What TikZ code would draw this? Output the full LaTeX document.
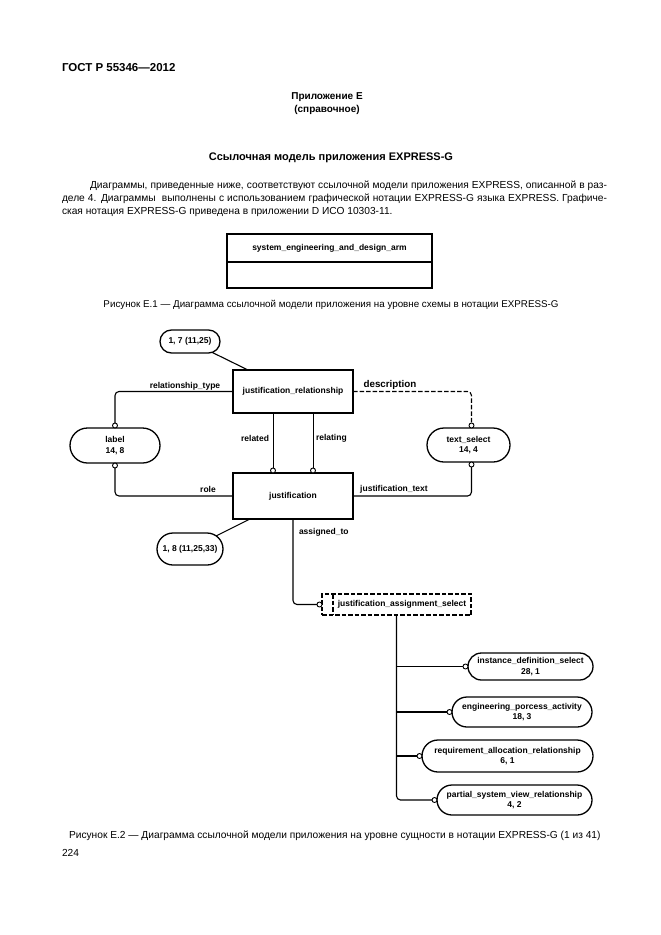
\documentclass[tikz,border=0pt]{standalone}
\usepackage{fontspec}
\setmainfont{Liberation Sans}
\usetikzlibrary{shapes.misc,calc}
\newcommand\dgfont{\bfseries\fontsize{8.5}{10.5}\selectfont}
\newcommand\bodyfont{\fontsize{10.2}{12}\selectfont}
\begin{document}
\begin{tikzpicture}[x=1pt,y=-1pt,
  every node/.style={inner sep=0pt, outer sep=0pt},
  ent/.style={draw, line width=1.4pt, minimum width=120pt, align=center, font=\dgfont},
  refb/.style={draw, rounded rectangle, line width=1.3pt, align=center, font=\dgfont},
  oc/.style={circle, draw, fill=white, line width=0.9pt, minimum size=5pt},
  conn/.style={line width=1.1pt, rounded corners=4pt},
  dsh/.style={dash pattern=on 4.5pt off 2pt},
  lbl/.style={font=\dgfont},
  body/.style={font=\bodyfont}]
\fill[white] (0,0) rectangle (661,935);
\useasboundingbox (0,0) rectangle (661,935);

% header
\node[anchor=west, font=\bfseries\fontsize{11.5}{13}\selectfont] (gost) at (62,68) {ГОСТ Р 55346—2012};
\node[font=\bfseries\fontsize{10}{12}\selectfont] (app) at (327,97) {Приложение Е};
\node[font=\bfseries\fontsize{10}{12}\selectfont] (inf) at (327,110) {(справочное)};
\node[font=\bfseries\fontsize{11}{13}\selectfont] (title) at (331,158) {Ссылочная модель приложения EXPRESS-G};
\node[anchor=west, body] (p1) at (90,186) {\makebox[517pt][s]{Диаграммы, приведенные ниже, соответствуют ссылочной модели приложения EXPRESS, описанной в раз-}};
\node[anchor=west, body] (p2) at (62,199) {\makebox[545pt][s]{деле 4. Диаграммы\ \ выполнены с использованием графической нотации EXPRESS-G языка EXPRESS. Графиче-}};
\node[anchor=west, body] (p3) at (62,212) {ская нотация EXPRESS-G приведена в приложении D ИСО 10303-11.};

% figure E.1
\node[draw, line width=1.4pt, minimum width=205pt, minimum height=28pt, font=\dgfont] (seb) at (329.5,248) {system\_engineering\_and\_design\_arm};
\node[draw, line width=1.4pt, minimum width=205pt, minimum height=26pt, anchor=north] (sebb) at (seb.south) {};
\node[font=\fontsize{9.8}{12}\selectfont] (cap1) at (331,305) {Рисунок Е.1 — Диаграмма ссылочной модели приложения на уровне схемы в нотации EXPRESS-G};

% figure E.2 entities
\node[ent, minimum height=43pt] (jr) at (293,391.5) {justification\_relationship};
\node[ent, minimum height=46pt] (just) at (293,496) {justification};
\node[refb, minimum width=60pt, minimum height=23pt] (b17) at (190,341.5) {1, 7 (11,25)};
\node[refb, minimum width=66pt, minimum height=32pt] (b18) at (190,549) {1, 8 (11,25,33)};
\node[refb, minimum width=90pt, minimum height=35pt] (label) at (115,445.5) {label\\14, 8};
\node[refb, minimum width=83pt, minimum height=34pt] (tsel) at (468.5,445) {text\_select\\14, 4};

% select type
\node[draw, dsh, line width=1.1pt, minimum width=149pt, minimum height=21pt] (jas) at (396.5,604.5) {};
\coordinate (jasit) at ($(jas.north west)+(11,0)$);
\coordinate (jasib) at ($(jas.south west)+(11,0)$);
\draw[dsh, line width=1.1pt] (jasit) -- (jasib);
\node[font=\dgfont] (jast) at ($(jasit)!0.5!(jas.south east)$) {justification\_assignment\_select};

\node[refb, minimum width=125pt, minimum height=27pt] (ids) at (530.5,666.5) {instance\_definition\_select\\28, 1};
\node[refb, minimum width=140pt, minimum height=30pt] (epa) at (522,712) {engineering\_porcess\_activity\\18, 3};
\node[refb, minimum width=171pt, minimum height=32pt] (rar) at (507.5,756) {requirement\_allocation\_relationship\\6, 1};
\node[refb, minimum width=155pt, minimum height=30pt] (psvr) at (514.5,800) {partial\_system\_view\_relationship\\4, 2};

% reference lines
\draw[line width=1.1pt] (b17) -- ($(jr.north west)+(15,0)$);
\draw[line width=1.1pt] (b18) -- ($(just.south west)+(17,0)$);

% relationship_type
\node[oc, anchor=south] (clt) at (label.north) {};
\draw[conn] (jr.west) -| (clt.north);
\node[lbl] (lrt) at (185,386) {relationship\_type};

% role
\node[oc, anchor=north] (clb) at (label.south) {};
\draw[conn] (just.west) -| (clb.south);
\node[lbl] (lrole) at (208,489) {role};

% related / relating
\node[oc, anchor=south] (crel) at ($(just.north west)+(40,0)$) {};
\draw[line width=0.9pt] (crel.north) -- (crel.north |- jr.south);
\node[lbl, anchor=east] (lrel) at (269,438) {related};
\node[oc, anchor=south] (crlg) at ($(just.north west)+(80,0)$) {};
\draw[line width=0.9pt] (crlg.north) -- (crlg.north |- jr.south);
\node[lbl, anchor=west] (lrlg) at (316,438) {relating};

% description
\node[oc, anchor=south] (cts) at ($(tsel.north)+(3,0)$) {};
\draw[conn, dsh] (jr.east) -| (cts.north);
\node[font=\bfseries\fontsize{9.8}{12}\selectfont] (ldesc) at (390,385) {description};

% justification_text
\node[oc, anchor=north] (ctb) at ($(tsel.south)+(3,0)$) {};
\draw[conn] (just.east) -| (ctb.south);
\node[lbl] (ljt) at (394,489) {justification\_text};

% assigned_to
\node[oc, anchor=east] (cjas) at (jas.west) {};
\draw[conn] (just.south) |- (cjas.west);
\node[lbl, anchor=west] (lat) at (299,532) {assigned\_to};

% select tree
\node[oc, anchor=east] (cids) at (ids.west) {};
\node[oc, anchor=east] (cepa) at (epa.west) {};
\node[oc, anchor=east] (crar) at (rar.west) {};
\node[oc, anchor=east] (cpsvr) at (psvr.west) {};
\draw[conn] (jas.south) |- (cpsvr.west);
\draw[line width=1.1pt] (jas.south |- cids) -- (cids.west);
\draw[line width=1.1pt] (jas.south |- cepa) -- (cepa.west);
\draw[line width=1.1pt] (jas.south |- crar) -- (crar.west);

% caption
\node[anchor=west, body] (cap2) at (69,836) {Рисунок Е.2 — Диаграмма ссылочной модели приложения на уровне сущности в нотации EXPRESS-G (1 из 41)};
\node[anchor=west, body] (pg) at (62,853) {224};
\end{tikzpicture}
\end{document}
